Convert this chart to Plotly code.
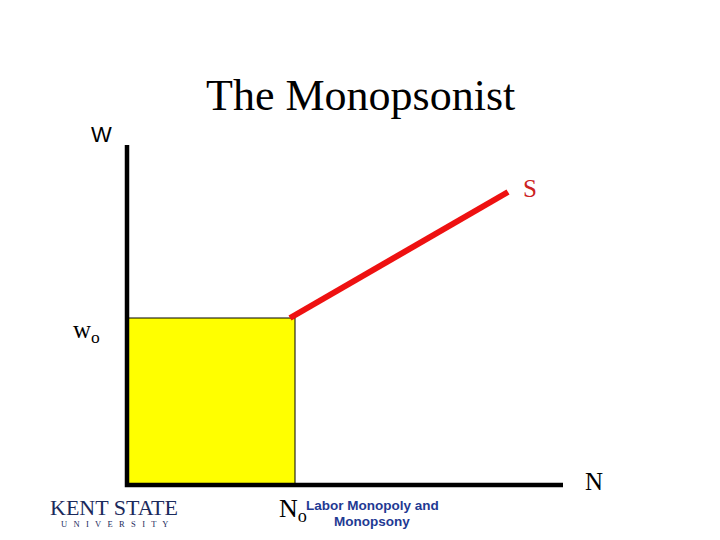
import plotly.graph_objects as go

# Data (units: labour N, wage W)
axis_x = [0, 0, 436]
axis_y = [340, 0, 0]
N_o = 168
w_o = 167
supply_N = [163, 381]
supply_W = [167, 293]

fig = go.Figure()

# Yellow rectangle (wage bill)
fig.add_trace(go.Scatter(
    x=[0, N_o, N_o, 0, 0], y=[0, 0, w_o, w_o, 0],
    mode="lines", fill="toself", fillcolor="#FFFF00",
    line=dict(color="black", width=1), hoverinfo="skip", showlegend=False))

# Axes
fig.add_trace(go.Scatter(x=axis_x, y=axis_y, mode="lines",
                         line=dict(color="black", width=4.5),
                         hoverinfo="skip", showlegend=False))

# Supply curve
fig.add_trace(go.Scatter(x=supply_N, y=supply_W, mode="lines",
                         line=dict(color="#EE1111", width=6),
                         hoverinfo="skip", showlegend=False))

serif = "Liberation Serif, Times New Roman, serif"
sans = "Liberation Sans, Arial, sans-serif"

def px(x):  # pixel -> data x
    return x - 127

def py(y):  # pixel -> data y
    return 485 - y

ann = [
    dict(x=px(360), y=py(95), text="The Monopsonist", font=dict(family=serif, size=44, color="black")),
    dict(x=px(101), y=py(134), text="W", font=dict(family=sans, size=22, color="black")),
    dict(x=px(530), y=py(188), text="S", font=dict(family=serif, size=25, color="#CC2222")),
    dict(x=px(86), y=py(331), text="w<sub>o</sub>", font=dict(family=serif, size=25, color="black")),
    dict(x=px(594), y=py(481), text="N", font=dict(family=serif, size=25, color="black")),
    dict(x=px(293), y=py(510), text="N<sub>o</sub>", font=dict(family=serif, size=26, color="black")),
    dict(x=px(372), y=py(505), text="<b>Labor Monopoly and</b>", font=dict(family=sans, size=13.5, color="#1F3A93")),
    dict(x=px(372), y=py(521), text="<b>Monopsony</b>", font=dict(family=sans, size=13.5, color="#1F3A93")),
    dict(x=px(114), y=py(507), text="KENT STATE", font=dict(family=serif, size=22, color="#1B2A5C")),
    dict(x=px(114), y=py(524), text="U   N   I   V   E   R   S   I   T   Y", font=dict(family=serif, size=8.5, color="#1B2A5C")),
]
for a in ann:
    a.update(xref="x", yref="y", showarrow=False, xanchor="center", yanchor="middle")

# Page body has an 8px default margin; ranges compensate so the figure lines up.
fig.update_layout(
    width=720, height=540,
    margin=dict(l=0, r=0, t=0, b=0),
    paper_bgcolor="white", plot_bgcolor="white",
    xaxis=dict(range=[-119, 601], visible=False, fixedrange=True),
    yaxis=dict(range=[-63, 477], visible=False, fixedrange=True),
    annotations=ann,
    showlegend=False,
)

fig.write_html("out.html")
